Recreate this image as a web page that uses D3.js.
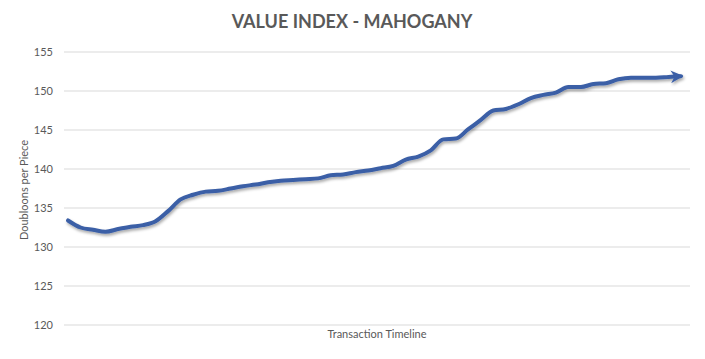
<!DOCTYPE html>
<html>
<head>
<meta charset="utf-8">
<script src="https://cdnjs.cloudflare.com/ajax/libs/d3/7.8.5/d3.min.js"></script>
<style>
  body { margin: 0; background: #fff; }
  text { font-family: Lato, "Open Sans", sans-serif; fill: #595959; }
</style>
</head>
<body>
<div id="chartId"></div>
<script>
// values, one per transaction
var values = [133.4, 132.5, 132.2, 131.95, 132.3, 132.6, 132.8, 133.3, 134.6, 136.1,
              136.7, 137.1, 137.2, 137.5, 137.8, 138.0, 138.3, 138.5, 138.6, 138.7,
              138.8, 139.2, 139.3, 139.6, 139.8, 140.1, 140.4, 141.2, 141.6, 142.4,
              143.8, 143.9, 145.1, 146.3, 147.5, 147.7, 148.3, 149.1, 149.5, 149.8,
              150.5, 150.5, 150.9, 151.0, 151.5, 151.7, 151.7, 151.7, 151.8, 151.9];
var categories = values.map(function(d, i) { return i + 1; });
var yTicks = [120, 125, 130, 135, 140, 145, 150, 155];

var width = 705, height = 359;
var plotLeft = 64, plotRight = 690, plotTop = 52, plotBottom = 325;

var svg = d3.select("#chartId")
  .append("svg")
  .attr("width", width)
  .attr("height", height);

var defs = svg.append("defs");
var shadow = defs.append("filter").attr("id", "shadow")
  .attr("x", "-5%").attr("y", "-20%").attr("width", "110%").attr("height", "160%");
shadow.append("feDropShadow")
  .attr("dx", 1).attr("dy", 2).attr("stdDeviation", 1.5)
  .attr("flood-color", "#000").attr("flood-opacity", 0.35);

defs.append("marker")
  .attr("id", "arrow")
  .attr("viewBox", "0 0 10 10")
  .attr("refX", 8).attr("refY", 5)
  .attr("markerWidth", 3.2).attr("markerHeight", 3.2)
  .attr("markerUnits", "strokeWidth")
  .attr("orient", "auto")
  .append("path")
  .attr("d", "M0,0 L10,5 L0,10 L3,5 Z")
  .attr("fill", "#3a5ea6");

// points sit a little inside the gridlines, like the original
var x = d3.scalePoint()
  .domain(categories)
  .range([plotLeft + 4, plotRight - 9])
  .padding(0);

var y = d3.scaleLinear()
  .domain([120, 155])
  .range([plotBottom, plotTop]);

// gridlines
svg.append("g")
  .selectAll("line")
  .data(yTicks)
  .enter()
  .append("line")
  .attr("x1", plotLeft).attr("x2", plotRight)
  .attr("y1", function(d) { return y(d); })
  .attr("y2", function(d) { return y(d); })
  .attr("stroke", "#d9d9d9")
  .attr("stroke-width", 1);

// y tick labels
svg.append("g")
  .selectAll("text")
  .data(yTicks)
  .enter()
  .append("text")
  .attr("x", 53)
  .attr("y", function(d) { return y(d); })
  .attr("dy", "0.35em")
  .attr("text-anchor", "end")
  .style("font-size", "11px")
  .text(function(d) { return d; });

// title
svg.append("text")
  .attr("x", 352).attr("y", 28)
  .attr("text-anchor", "middle")
  .style("font-size", "18px")
  .style("font-weight", "bold")
  .text("VALUE INDEX - MAHOGANY");

// axis titles
svg.append("text")
  .attr("transform", "translate(28,190) rotate(-90)")
  .attr("text-anchor", "middle")
  .style("font-size", "11px")
  .text("Doubloons per Piece");

svg.append("text")
  .attr("x", 377).attr("y", 338)
  .attr("text-anchor", "middle")
  .style("font-size", "11px")
  .text("Transaction Timeline");

// the line
var line = d3.line()
  .x(function(d, i) { return x(categories[i]); })
  .y(function(d) { return y(d); })
  .curve(d3.curveMonotoneX);

svg.append("path")
  .datum(values)
  .attr("d", line)
  .attr("fill", "none")
  .attr("stroke", "#3a5ea6")
  .attr("stroke-width", 4)
  .attr("stroke-linejoin", "round")
  .attr("stroke-linecap", "round")
  .attr("marker-end", "url(#arrow)")
  .attr("filter", "url(#shadow)");
</script>
</body>
</html>
